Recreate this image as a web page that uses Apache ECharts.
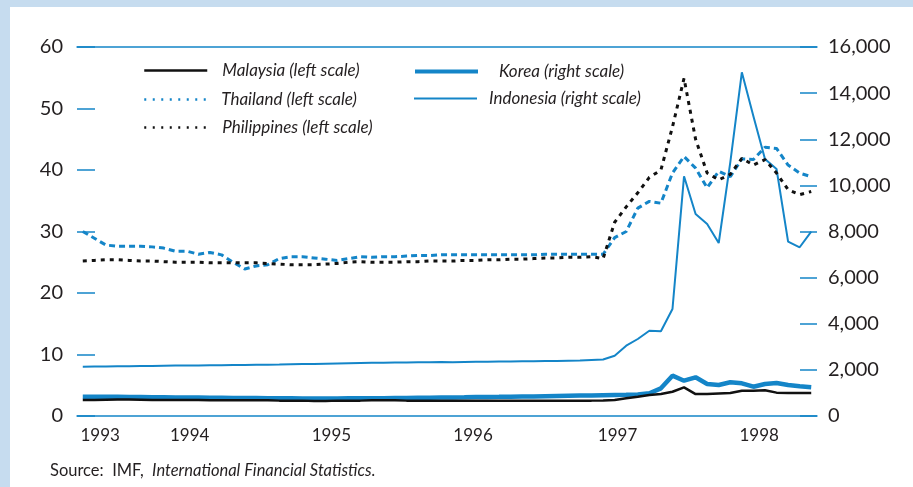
<!DOCTYPE html>
<html>
<head>
<meta charset="utf-8">
<script src="https://cdn.jsdelivr.net/npm/echarts@6/dist/echarts.min.js"></script>
<style>
  html, body { margin: 0; padding: 0; background: #fff; }
  #main { width: 913px; height: 487px; }
</style>
</head>
<body>
<div id="main"></div>
<script type="text/javascript">
// months Sep 1993 .. Dec 1998
var months = [];
for (var y = 1993; y <= 1998; y++) {
	for (var m = (y === 1993 ? 9 : 1); m <= 12; m++) {
		months.push(y + '-' + (m < 10 ? '0' + m : m));
	}
}

// year labels and where they sit (month index on the axis)
var yearLabels = ['1993', '1994', '1995', '1996', '1997', '1998'];
var yearLabelAt = [2, 9.75, 22, 34.25, 46.75, 59];

var seriesNames = ['Malaysia (left scale)', 'Thailand (left scale)', 'Philippines (left scale)',
	'Korea (right scale)', 'Indonesia (right scale)'];

// left scale
var malaysia = [2.6, 2.6, 2.65, 2.7, 2.7, 2.65, 2.6, 2.6, 2.6, 2.6, 2.6, 2.55, 2.55, 2.55, 2.55, 2.55,
	2.55, 2.5, 2.5, 2.5, 2.45, 2.45, 2.5, 2.5, 2.5, 2.55, 2.55, 2.55, 2.5, 2.5, 2.5, 2.5,
	2.5, 2.5, 2.5, 2.5, 2.5, 2.5, 2.5, 2.5, 2.5, 2.5, 2.5, 2.5, 2.5, 2.52,
	2.6, 2.87, 3.13, 3.4, 3.57, 3.94, 4.65, 3.57, 3.57, 3.65, 3.73, 4.1, 4.1, 4.2, 3.8, 3.75, 3.75, 3.75];
var thailand = [30, 28.9, 27.8, 27.6, 27.6, 27.6, 27.5, 27.3, 26.8, 26.8, 26.3, 26.6, 26.2, 25.0, 23.9, 24.4,
	24.6, 25.6, 25.9, 25.9, 25.7, 25.5, 25.3, 25.6, 25.9, 25.8, 25.9, 25.9, 26.0, 26.1, 26.1, 26.2,
	26.2, 26.2, 26.2, 26.2, 26.2, 26.2, 26.2, 26.2, 26.3, 26.3, 26.3, 26.3, 26.3, 26.3,
	29.0, 30.0, 33.8, 34.9, 34.6, 39.5, 42.2, 40.3, 37.1, 39.8, 38.9, 41.8, 41.7, 43.7, 43.5, 40.8, 39.5, 38.9];
var philippines = [25.2, 25.3, 25.4, 25.4, 25.3, 25.2, 25.2, 25.1, 25.0, 25.0, 25.0, 24.9, 24.9, 24.9, 24.9, 24.9,
	24.8, 24.7, 24.6, 24.6, 24.6, 24.7, 24.8, 25.0, 25.1, 25.0, 25.0, 25.0, 25.1, 25.1, 25.2, 25.2,
	25.2, 25.3, 25.3, 25.4, 25.4, 25.5, 25.5, 25.6, 25.7, 25.7, 25.8, 25.8, 25.9, 25.6,
	31.5, 34.0, 36.3, 38.8, 40.0, 47.0, 54.9, 45.0, 39.5, 38.4, 39.3, 41.9, 40.8, 41.7, 39.5, 36.8, 36.0, 36.5];

// right scale
var korea = [830, 830, 830, 830, 825, 820, 815, 810, 805, 800, 800, 795, 790, 785, 780, 780,
	775, 770, 765, 760, 760, 760, 760, 765, 770, 770, 775, 780, 785, 790, 795, 800,
	805, 810, 820, 825, 830, 840, 845, 850, 860, 870, 880, 890, 890, 900,
	910, 920, 935, 984, 1200, 1748, 1531, 1678, 1388, 1344, 1461, 1418, 1271, 1388, 1431, 1344, 1288, 1245];
var indonesia = [2140, 2145, 2150, 2160, 2160, 2165, 2170, 2180, 2185, 2190, 2190, 2200, 2205, 2210, 2215, 2220,
	2225, 2230, 2240, 2250, 2255, 2270, 2280, 2290, 2300, 2305, 2310, 2315, 2320, 2330, 2335, 2340,
	2335, 2345, 2350, 2355, 2360, 2365, 2370, 2375, 2385, 2390, 2400, 2410, 2430, 2450,
	2615, 3049, 3339, 3699, 3672, 4640, 10394, 8760, 8326, 7502, 11000, 14905, 13000, 11145, 10711, 7560, 7316, 7993];

var BLUE = '#1485c8';
var INK = '#231f20';
var FONT = 'Lato';

var myChart = echarts.init(document.getElementById('main'));

// one legend block per series so each can sit where the original puts it
function legendAt(name, left, top, lineStyle, textGap) {
	return {
		data: [name],
		left: left,
		top: top,
		padding: 0,
		itemWidth: 63,
		itemHeight: 14,
		selectedMode: false,
		itemStyle: { opacity: 0 },   // hides the circle drawn on the line icon
		lineStyle: lineStyle,
		textStyle: { fontFamily: FONT, fontStyle: 'italic', fontSize: 17, color: INK, padding: [0, 0, 0, textGap] }
	};
}

myChart.setOption({
	animation: false,
	textStyle: { fontFamily: FONT },
	graphic: [
		{ type: 'rect', left: 0, top: 0, shape: { width: 10, height: 487 }, style: { fill: '#c6dcef' } },
		{ type: 'rect', left: 0, top: 0, shape: { width: 913, height: 7 }, style: { fill: '#c6dcef' } }
	],
	title: {
		left: 50,
		top: 462,
		padding: 0,
		text: '{n|Source:  IMF,  }{i|International Financial Statistics.}',
		textStyle: {
			fontWeight: 'normal',
			rich: {
				n: { fontFamily: FONT, fontSize: 16.5, fontWeight: 'normal', color: INK },
				i: { fontFamily: FONT, fontSize: 16.5, fontWeight: 'normal', color: INK, fontStyle: 'italic' }
			}
		}
	},
	legend: [
		legendAt(seriesNames[0], 143, 62, { width: 2.5 }, 10),
		legendAt(seriesNames[1], 143, 91, { type: [2, 6.5], width: 2.5 }, 9),
		legendAt(seriesNames[2], 143, 119, { type: [2, 6.5], width: 2.5 }, 10),
		legendAt(seriesNames[3], 413, 63, { width: 4 }, 16),
		legendAt(seriesNames[4], 413, 90, { width: 2 }, 7)
	],
	grid: { left: 77, right: 96, top: 47, bottom: 71 },
	xAxis: [
		{
			type: 'category', data: months, boundaryGap: true, position: 'bottom',
			axisLine: { lineStyle: { color: BLUE, width: 1.5 } },
			axisTick: { inside: true, length: 5, interval: 0, lineStyle: { color: BLUE, width: 1.2 } },
			axisLabel: { show: false }, splitLine: { show: false }
		},
		{
			type: 'category', data: months, boundaryGap: true, position: 'bottom',
			axisLine: { show: false },
			axisTick: {
				inside: true, length: 11, lineStyle: { color: BLUE, width: 1.2 },
				interval: function (i, v) { return v.slice(5) === '01'; }
			},
			axisLabel: { show: false }, splitLine: { show: false }
		},
		{
			type: 'value', min: 0, max: months.length, interval: 0.25, position: 'bottom',
			axisLine: { show: false }, axisTick: { show: false }, splitLine: { show: false },
			axisLabel: {
				margin: 11, fontSize: 17, color: INK, fontFamily: FONT,
				formatter: function (v) {
					var i = yearLabelAt.indexOf(v);
					return i >= 0 ? yearLabels[i] : '';
				}
			}
		},
		{
			type: 'category', data: months, position: 'top',
			axisLine: { lineStyle: { color: BLUE, width: 1.5 } },
			axisTick: { show: false }, axisLabel: { show: false }, splitLine: { show: false }
		}
	],
	yAxis: [
		{
			type: 'value', min: 0, max: 60, interval: 10, position: 'left',
			axisLine: { show: false },
			axisTick: { show: true, inside: true, length: 18, lineStyle: { color: BLUE, width: 1.5 } },
			axisLabel: { margin: 14, fontSize: 20, color: INK, fontFamily: FONT },
			splitLine: { show: false }
		},
		{
			type: 'value', min: 0, max: 16000, interval: 2000, position: 'right',
			axisLine: { show: false },
			axisTick: { show: true, inside: true, length: 17, lineStyle: { color: BLUE, width: 1.5 } },
			axisLabel: { margin: 11, fontSize: 20, color: INK, fontFamily: FONT },
			splitLine: { show: false }
		}
	],
	series: [
		{
			name: seriesNames[4], type: 'line', yAxisIndex: 1, data: indonesia, symbol: 'none',
			itemStyle: { color: BLUE }, lineStyle: { color: BLUE, width: 2 }
		},
		{
			name: seriesNames[3], type: 'line', yAxisIndex: 1, data: korea, symbol: 'none',
			itemStyle: { color: BLUE }, lineStyle: { color: BLUE, width: 4.5 }
		},
		{
			name: seriesNames[0], type: 'line', yAxisIndex: 0, data: malaysia, symbol: 'none',
			itemStyle: { color: '#111' }, lineStyle: { color: '#111', width: 2.5 }
		},
		{
			name: seriesNames[1], type: 'line', yAxisIndex: 0, data: thailand, symbol: 'none',
			itemStyle: { color: BLUE }, lineStyle: { color: BLUE, width: 3, type: [6, 4] }
		},
		{
			name: seriesNames[2], type: 'line', yAxisIndex: 0, data: philippines, symbol: 'none',
			itemStyle: { color: '#111' }, lineStyle: { color: '#111', width: 3, type: [4, 5] }
		}
	]
});
</script>
</body>
</html>
